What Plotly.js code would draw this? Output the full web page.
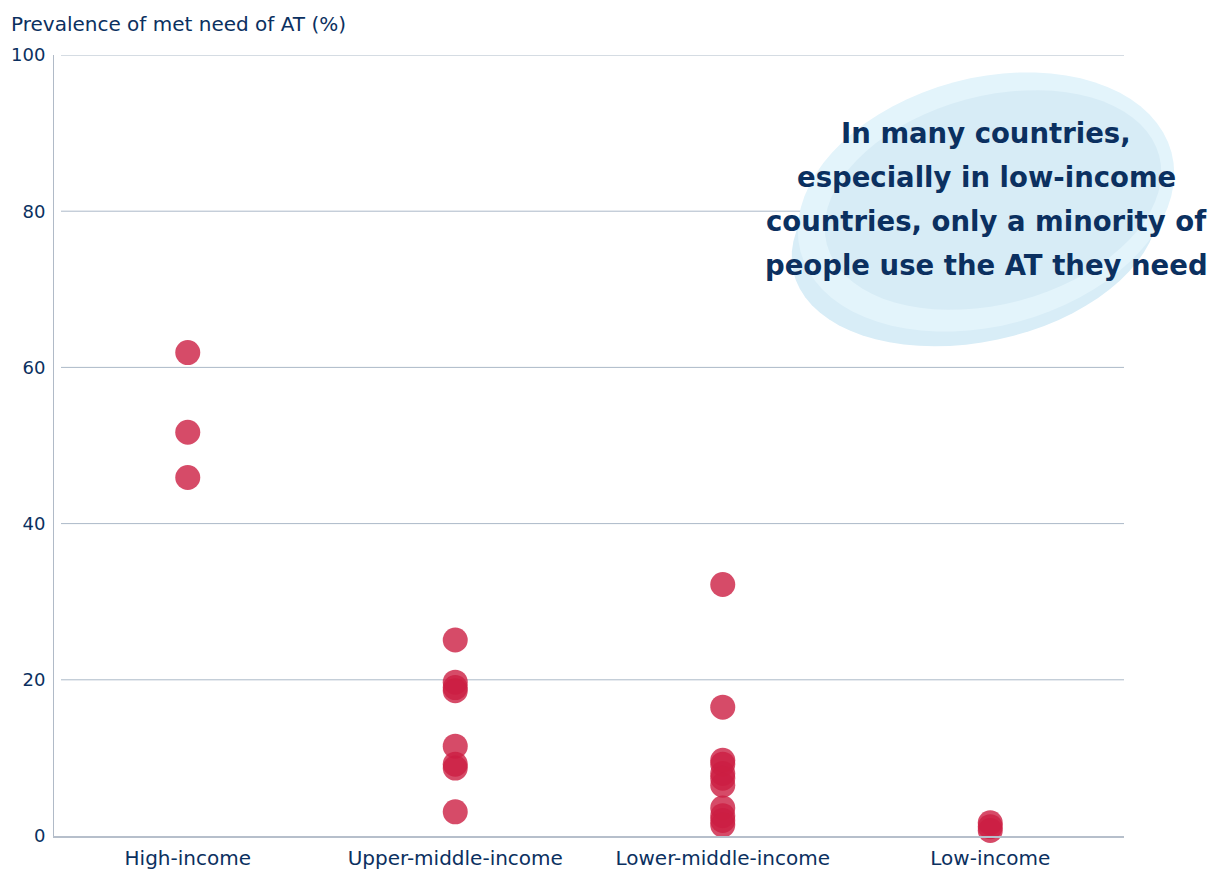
<!DOCTYPE html>
<html>
<head>
<meta charset="utf-8">
<script src="https://cdn.plot.ly/plotly-3.0.1.min.js"></script>
<style>
  html, body { margin: 0; padding: 0; background: #ffffff; }
  #chart { width: 1222px; height: 870px; }
</style>
</head>
<body>
<div id="chart"></div>
<script>
// Income groups along the x axis
const incomeGroups = ["High-income", "Upper-middle-income", "Lower-middle-income", "Low-income"];

// Prevalence of met need of assistive technology (%), one value per country
const highIncome = [61.9, 51.7, 45.9];
const upperMiddleIncome = [25.1, 19.7, 19.0, 18.6, 11.5, 9.2, 8.7, 3.1];
const lowerMiddleIncome = [32.2, 16.5, 9.7, 9.2, 8.0, 7.4, 6.5, 3.6, 2.6, 2.0, 1.4];
const lowIncome = [1.7, 1.2, 0.7];

const yTicks = [0, 20, 40, 60, 80, 100];

const calloutLines = [
  "In many countries,",
  "especially in low-income",
  "countries, only a minority of",
  "people use the AT they need"
];

const groupValues = [highIncome, upperMiddleIncome, lowerMiddleIncome, lowIncome];
const xs = [], ys = [];
groupValues.forEach((vals, i) => {
  vals.forEach(v => { xs.push(incomeGroups[i]); ys.push(v); });
});

const W = 1222, H = 870;
const M = { l: 54, r: 98, t: 55, b: 34 };
const plotW = W - M.l - M.r, plotH = H - M.t - M.b;
const px2x = p => (p - M.l) / plotW;
const px2y = p => (H - M.b - p) / plotH;

// Rotated ellipse as an SVG path in paper coordinates
function ellipsePath(cx, cy, rx, ry, deg) {
  const a = deg * Math.PI / 180;
  const pts = [];
  for (let k = 0; k < 72; k++) {
    const t = k / 72 * 2 * Math.PI;
    const ex = rx * Math.cos(t), ey = ry * Math.sin(t);
    const X = cx + ex * Math.cos(a) - ey * Math.sin(a);
    const Y = cy + ex * Math.sin(a) + ey * Math.cos(a);
    pts.push((k ? "L" : "M") + px2x(X).toFixed(5) + "," + px2y(Y).toFixed(5));
  }
  return pts.join(" ") + " Z";
}

const navy = "#0b3060";
const font = "'DejaVu Sans', 'Noto Sans', sans-serif";

// Horizontal gridlines, starting just right of the y axis line
const grid = yTicks.filter(v => v > 0).map(v => ({
  type: "line", xref: "paper", yref: "y", layer: "below",
  x0: px2x(61), x1: 1, y0: v, y1: v,
  line: { color: "#acb9c8", width: 1 }
}));

// Soft light-blue backdrop behind the callout text
const blob = [
  { c: "#d8edf7", e: [975, 232, 186, 110, -12] },
  { c: "#e3f4fb", e: [986, 202, 192, 124, -15] },
  { c: "#d7ecf6", e: [993, 200, 172, 104, -15] }
].map(b => ({
  type: "path", xref: "paper", yref: "paper", layer: "above",
  path: ellipsePath(...b.e), fillcolor: b.c, line: { width: 0 }
}));

const calloutY = [133, 177, 221, 265];
const callout = calloutLines.map((s, i) => ({
  xref: "paper", yref: "paper", x: px2x(986), y: px2y(calloutY[i]),
  xanchor: "center", yanchor: "middle", showarrow: false,
  text: "<b>" + s + "</b>",
  font: { size: 27.5, color: navy, family: font }
}));

const trace = {
  type: "scatter", mode: "markers", x: xs, y: ys,
  marker: { size: 25, color: "rgb(204,30,66)", opacity: 0.8, line: { width: 0 } },
  hoverinfo: "x+y", cliponaxis: false
};

const layout = {
  width: W, height: H,
  margin: M,
  paper_bgcolor: "#ffffff", plot_bgcolor: "#ffffff",
  showlegend: false,
  font: { family: font, color: navy, size: 18 },
  xaxis: {
    type: "category", categoryorder: "array", categoryarray: incomeGroups,
    range: [-0.5, 3.5], showgrid: false, zeroline: false,
    showline: true, linecolor: "#b6bfcb", linewidth: 2,
    ticks: "", ticklabelstandoff: 3,
    tickfont: { size: 20, color: navy, family: font }
  },
  yaxis: {
    range: [0, 100], tickvals: yTicks, zeroline: false,
    showgrid: false,
    showline: true, linecolor: "#b0bac7", linewidth: 1,
    ticks: "", ticklabelstandoff: 4,
    tickfont: { size: 18, color: navy, family: font }
  },
  shapes: grid.concat(blob),
  annotations: [
    {
      xref: "paper", yref: "paper", x: px2x(9), y: px2y(24),
      xanchor: "left", yanchor: "middle", showarrow: false,
      text: "Prevalence of met need of AT (%)",
      font: { size: 20, color: navy, family: font }
    }
  ].concat(callout)
};

Plotly.newPlot("chart", [trace], layout, { displayModeBar: false, staticPlot: true });
</script>
</body>
</html>
